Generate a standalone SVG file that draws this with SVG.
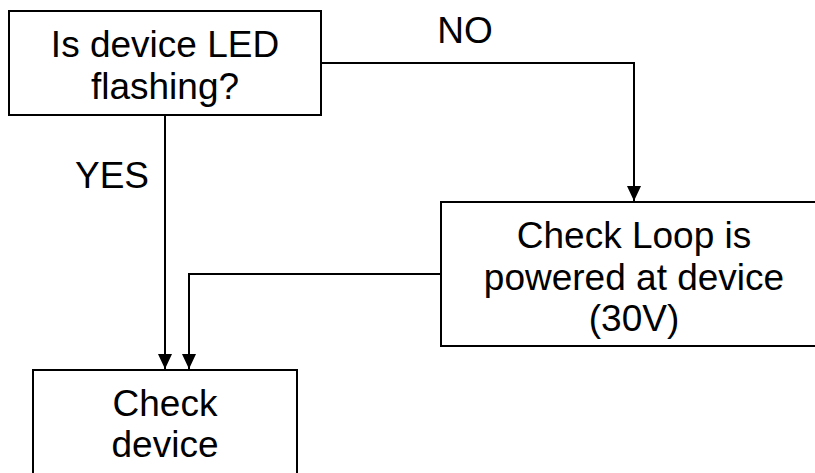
<svg xmlns="http://www.w3.org/2000/svg" width="815" height="473" viewBox="0 0 815 473">
<style>
.box{fill:#fff;stroke:#000;stroke-width:2}
.t{font-family:"Liberation Sans",Arial,sans-serif;font-size:37px;fill:#000;text-anchor:middle}
.c{fill:none;stroke:#000;stroke-width:2}
</style>
<defs>
<marker id="ah" markerWidth="15" markerHeight="14" refX="15" refY="7" orient="auto" markerUnits="userSpaceOnUse" viewBox="0 0 15 14">
<path d="M0,0 L15,7 L0,14 Z" fill="#000"/>
</marker>
</defs>
<rect width="815" height="473" fill="#fff"/>
<g id="connectors">
<path class="c" d="M321,63 H634 V201" marker-end="url(#ah)"/>
<path class="c" d="M165,115 V369" marker-end="url(#ah)"/>
<path class="c" d="M441,274 H189 V369" marker-end="url(#ah)"/>
<text class="t" x="465" y="43">NO</text>
<text class="t" x="112" y="188">YES</text>
</g>
<g id="n1">
<rect class="box" x="9" y="11" width="312" height="104"/>
<text class="t" x="165" y="57">Is device LED</text>
<text class="t" x="165" y="99">flashing?</text>
</g>
<g id="n2">
<rect class="box" x="441" y="202" width="386" height="144"/>
<text class="t" x="634" y="248">Check Loop is</text>
<text class="t" x="634" y="290">powered at device</text>
<text class="t" x="634" y="331">(30V)</text>
</g>
<g id="n3">
<rect class="box" x="33" y="370" width="264" height="120"/>
<text class="t" x="165" y="416">Check</text>
<text class="t" x="165" y="457">device</text>
</g>
</svg>
